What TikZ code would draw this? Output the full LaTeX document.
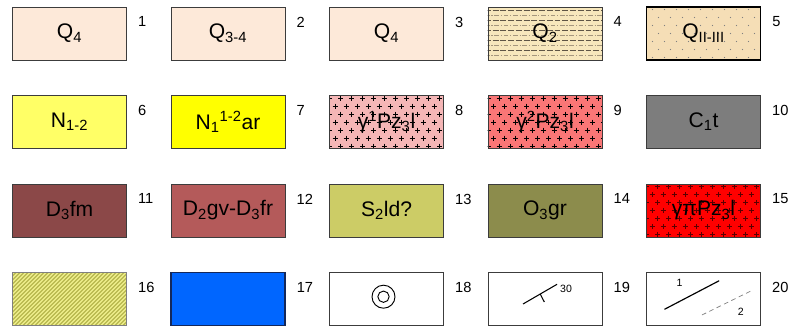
\documentclass[tikz,border=0pt]{standalone}
\usepackage{fontspec}
\setmainfont{Liberation Sans}
\usepackage{xcolor}
\usepackage{tikz}
\usetikzlibrary{calc,backgrounds}
\definecolor{boxline}{RGB}{60,60,60}
\definecolor{peach}{RGB}{253,233,217}
\definecolor{sandy}{RGB}{247,231,188}
\definecolor{wheatq}{RGB}{245,222,182}
\definecolor{lemon}{RGB}{255,255,102}
\definecolor{yellowfull}{RGB}{255,255,0}
\definecolor{pinklight}{RGB}{245,182,182}
\definecolor{salmon}{RGB}{250,118,118}
\definecolor{slate}{RGB}{125,125,125}
\definecolor{maroonq}{RGB}{139,72,72}
\definecolor{rosewood}{RGB}{180,90,90}
\definecolor{khaki}{RGB}{204,204,102}
\definecolor{olivegr}{RGB}{140,140,76}
\definecolor{redfull}{RGB}{255,0,0}
\definecolor{hatchy}{RGB}{226,226,86}
\definecolor{hatchline}{RGB}{150,150,80}
\definecolor{azure}{RGB}{0,102,255}
\definecolor{navyline}{RGB}{20,40,90}
\definecolor{dashdark}{RGB}{95,85,70}
\definecolor{dashlight}{RGB}{165,150,125}
\definecolor{plusred}{RGB}{90,0,0}

\tikzset{
  unit box/.style={draw=boxline,line width=0.7pt,minimum width=3.42cm,minimum height=1.59cm,
    inner sep=0pt,font=\fontsize{18}{20}\selectfont},
  numlbl/.style={anchor=north west,inner sep=0pt,font=\fontsize{12.5}{14}\selectfont},
  smalllbl/.style={inner sep=0pt,font=\fontsize{9}{10}\selectfont},
  symline/.style={line width=0.9pt,black}
}

% fill patterns, drawn behind a box node: #1 node, #2 colour
\newcommand{\fillplus}[3]{%
  \begin{pgfonlayer}{background}
  \fill[#2] (#1.south west) rectangle (#1.north east);
  \begin{scope}
  \clip (#1.south west) rectangle (#1.north east);
  \foreach \j in {0,...,6}{
    \pgfmathsetmacro{\yy}{-24+8*\j}
    \pgfmathsetmacro{\off}{mod(\j,2)*5.5}
    \foreach \i in {0,...,10}
      \draw[#3,line width=0.75pt] ($(#1.center)+({-59.5+\off+11*\i},\yy)$) -- ++(5,0)
        ($(#1.center)+({-57+\off+11*\i},{\yy-2.5})$) -- ++(0,5);
  }
  \end{scope}
  \end{pgfonlayer}}
\newcommand{\filldots}[2]{%
  \begin{pgfonlayer}{background}
  \fill[#2] (#1.south west) rectangle (#1.north east);
  \foreach \j in {0,...,6}{
    \pgfmathsetmacro{\yy}{-24+8*\j}
    \pgfmathsetmacro{\off}{mod(\j,2)*6}
    \foreach \i in {0,...,8}
      \fill[gray] ($(#1.center)+({-51+\off+12*\i},\yy)$) circle (0.5pt);
  }
  \end{pgfonlayer}}
\newcommand{\filldash}[2]{%
  \begin{pgfonlayer}{background}
  \fill[#2] (#1.south west) rectangle (#1.north east);
  \begin{scope}
  \clip (#1.south west) rectangle (#1.north east);
  \foreach \yy in {-23.5,-13.5,...,24}
    \draw[dashdark,line width=0.5pt,dash pattern=on 5pt off 1.6pt]
      ($(#1.center)+(-60,\yy)$) -- ++(120,0);
  \foreach \yy in {-18.5,-8.5,...,24}
    \draw[dashlight,line width=0.5pt,dash pattern=on 4pt off 1.5pt on 1pt off 1.5pt]
      ($(#1.center)+(-60,\yy)$) -- ++(120,0);
  \end{scope}
  \end{pgfonlayer}}
\newcommand{\fillhatch}[2]{%
  \begin{pgfonlayer}{background}
  \fill[#2] (#1.south west) rectangle (#1.north east);
  \begin{scope}
  \clip (#1.south west) rectangle (#1.north east);
  \foreach \k in {-92,-88,...,92}
    \draw[hatchline,line width=0.45pt] ($(#1.center)+({\k-30},30)$) -- ++(60,-60);
  \foreach \k in {-90,-86,...,92}
    \draw[white!60!hatchy,line width=0.4pt] ($(#1.center)+({\k-30},30)$) -- ++(60,-60);
  \end{scope}
  \end{pgfonlayer}}

\begin{document}
\begin{tikzpicture}[x=0.03cm,y=-0.03cm]
\useasboundingbox (0,0) rectangle (792,329);
% row 1
\node[unit box,fill=peach] (b1) at (69.5,33.5) {Q\textsubscript{4}};
\node[unit box,fill=peach] (b2) at (228,33.5) {Q\textsubscript{3-4}};
\node[unit box,fill=peach] (b3) at (386.5,33.5) {Q\textsubscript{4}};
\node[unit box] (b4) at (545,33.5) {Q\textsubscript{2}};
\node[unit box,draw=black,line width=1pt] (b5) at (703.5,33.5) {Q\textsubscript{II-III}};
% row 2
\node[unit box,fill=lemon] (b6) at (69.5,122) {N\textsubscript{1-2}};
\node[unit box,fill=yellowfull] (b7) at (228,122) {N\textsubscript{1}\textsuperscript{1-2}ar};
\node[unit box] (b8) at (386.5,122) {γ\textsuperscript{1}Pz\textsubscript{3}l};
\node[unit box] (b9) at (545,122) {γ\textsuperscript{2}Pz\textsubscript{3}l};
\node[unit box,fill=slate] (b10) at (703.5,122) {C\textsubscript{1}t};
% row 3
\node[unit box,fill=maroonq] (b11) at (69.5,210.5) {D\textsubscript{3}fm};
\node[unit box,fill=rosewood] (b12) at (228,210.5) {D\textsubscript{2}gv-D\textsubscript{3}fr};
\node[unit box,fill=khaki] (b13) at (386.5,210.5) {S\textsubscript{2}ld?};
\node[unit box,fill=olivegr] (b14) at (545,210.5) {O\textsubscript{3}gr};
\node[unit box] (b15) at (703.5,210.5) {γπPz\textsubscript{3}l};
% row 4
\node[unit box,draw=gray] (b16) at (69.5,299) {};
\node[unit box,fill=azure,draw=navyline,line width=1pt] (b17) at (228,299) {};
\node[unit box,fill=white] (b18) at (386.5,299) {};
\node[unit box,fill=white] (b19) at (545,299) {};
\node[unit box,fill=white] (b20) at (703.5,299) {};
% patterned fills
\filldash{b4}{sandy}
\filldots{b5}{wheatq}
\fillplus{b8}{pinklight}{black}
\fillplus{b9}{salmon}{black}
\fillplus{b15}{redfull}{plusred}
\fillhatch{b16}{hatchy}
% numbers
\node[numlbl] (n1) at ([shift={(11,10)}]b1.north east) {1};
\node[numlbl] (n2) at ([shift={(11,10)}]b2.north east) {2};
\node[numlbl] (n3) at ([shift={(11,10)}]b3.north east) {3};
\node[numlbl] (n4) at ([shift={(11,10)}]b4.north east) {4};
\node[numlbl] (n5) at ([shift={(11,10)}]b5.north east) {5};
\node[numlbl] (n6) at ([shift={(11,10)}]b6.north east) {6};
\node[numlbl] (n7) at ([shift={(11,10)}]b7.north east) {7};
\node[numlbl] (n8) at ([shift={(11,10)}]b8.north east) {8};
\node[numlbl] (n9) at ([shift={(11,10)}]b9.north east) {9};
\node[numlbl] (n10) at ([shift={(11,10)}]b10.north east) {10};
\node[numlbl] (n11) at ([shift={(11,10)}]b11.north east) {11};
\node[numlbl] (n12) at ([shift={(11,10)}]b12.north east) {12};
\node[numlbl] (n13) at ([shift={(11,10)}]b13.north east) {13};
\node[numlbl] (n14) at ([shift={(11,10)}]b14.north east) {14};
\node[numlbl] (n15) at ([shift={(11,10)}]b15.north east) {15};
\node[numlbl] (n16) at ([shift={(11,10)}]b16.north east) {16};
\node[numlbl] (n17) at ([shift={(11,10)}]b17.north east) {17};
\node[numlbl] (n18) at ([shift={(11,10)}]b18.north east) {18};
\node[numlbl] (n19) at ([shift={(11,10)}]b19.north east) {19};
\node[numlbl] (n20) at ([shift={(11,10)}]b20.north east) {20};
% symbols
\coordinate (C18) at ($(b18.center)+(-3,-2.3)$);
\draw[line width=0.8pt] (C18) circle (0.345cm);
\draw[line width=0.8pt] (C18) circle (0.17cm);
\draw[symline] ($(b19.center)+(-22,5)$) coordinate (Sa) -- ($(b19.center)+(12,-14.7)$) coordinate (Sb);
\draw[symline] ($(b19.center)+(-4.7,-4.8)$) -- ++(4,7.8);
\node[smalllbl,anchor=west] (dip) at ($(b19.center)+(15,-10)$) {30};
\draw[symline,line width=1pt] ($(b20.center)+(-39,10.3)$) coordinate (Fa) -- ($(b20.center)+(15.7,-18.3)$) coordinate (Fb);
\node[smalllbl] (f1) at ($(b20.center)+(-24,-16.3)$) {1};
\draw[gray,line width=0.6pt,dash pattern=on 4pt off 3pt] ($(b20.center)+(-1.6,16)$) coordinate (Ga) -- ($(b20.center)+(49.4,-9)$) coordinate (Gb);
\node[smalllbl] (f2) at ($(b20.center)+(37.4,12.7)$) {2};
\end{tikzpicture}
\end{document}
